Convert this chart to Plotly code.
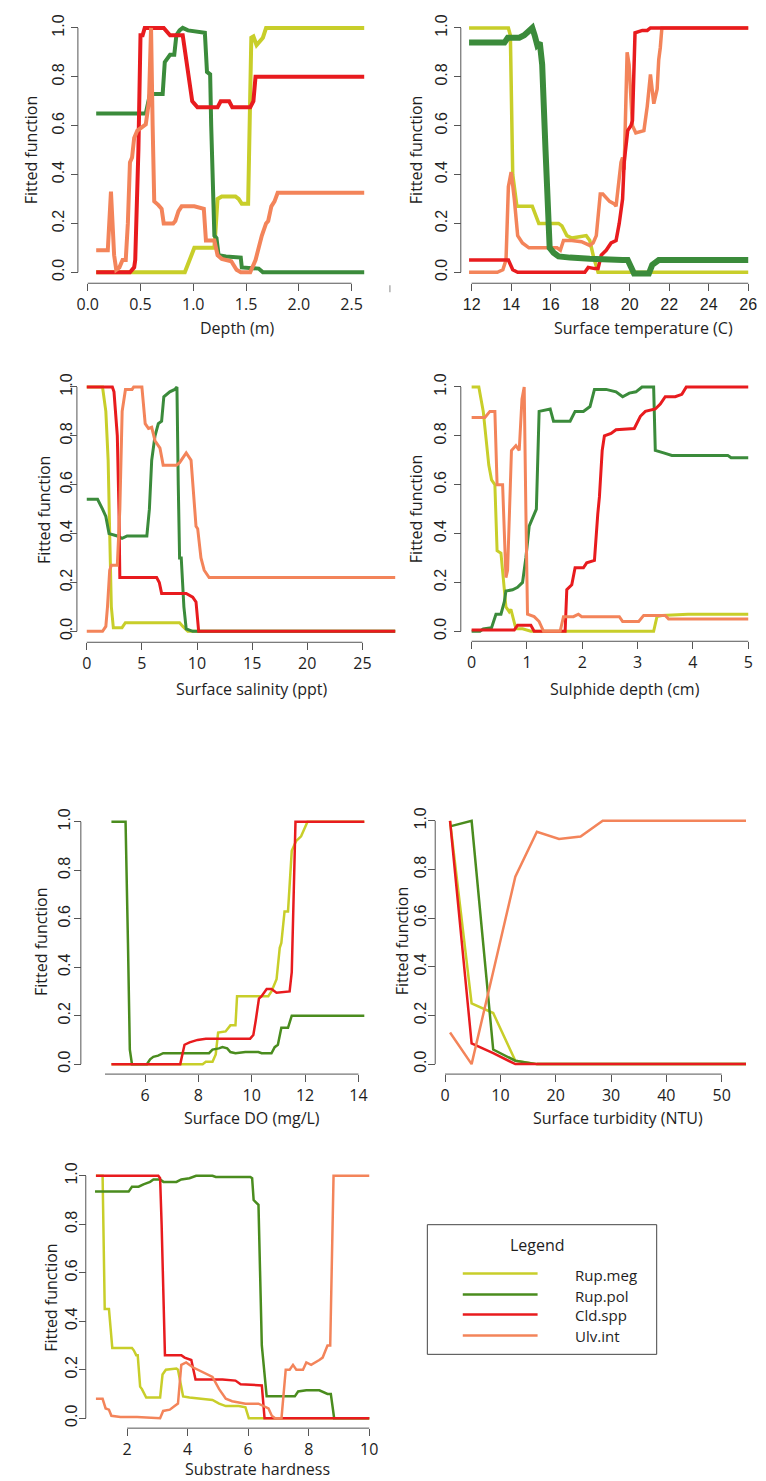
import plotly.graph_objects as go

W, H = 766, 1481

# ---------------- colours ----------------
COL_MEG = "#C8CE2A"
COL_POL_A = "#3B8B3B"
COL_POL_B = "#4A8C1E"
COL_CLD = "#E81B1E"
COL_ULV = "#F3845A"
SPECIES = ["Rup.meg", "Rup.pol", "Cld.spp", "Ulv.int"]

# ---------------- data (x, fitted value) ----------------
# Panel 1: Depth (m)
depth_meg = [(0.08, 0), (0.40, 0), (0.92, 0), (1.01, 0.10), (1.20, 0.10), (1.23, 0.30), (1.27, 0.31), (1.40, 0.31),
             (1.43, 0.30), (1.46, 0.28), (1.52, 0.28), (1.55, 0.96), (1.57, 0.965), (1.60, 0.93), (1.64, 0.95),
             (1.66, 0.96), (1.69, 1.0), (2.62, 1.0)]
depth_pol = [(0.08, 0.65), (0.55, 0.65), (0.59, 0.73), (0.71, 0.73), (0.73, 0.86), (0.78, 0.89), (0.82, 0.89),
             (0.84, 0.97), (0.87, 0.99), (0.90, 1.0), (0.95, 0.99), (1.06, 0.985), (1.11, 0.98), (1.13, 0.82),
             (1.16, 0.81), (1.17, 0.6), (1.20, 0.15), (1.22, 0.14), (1.24, 0.07), (1.31, 0.065), (1.45, 0.06),
             (1.46, 0.02), (1.55, 0.015), (1.62, 0.015), (1.66, 0), (2.62, 0)]
depth_cld = [(0.08, 0), (0.40, 0), (0.44, 0.02), (0.45, 0.05), (0.48, 0.5), (0.50, 0.97), (0.52, 0.97), (0.54, 1.0),
             (0.72, 1.0), (0.74, 0.99), (0.78, 0.97), (0.90, 0.97), (0.93, 0.87), (0.96, 0.80), (0.99, 0.70),
             (1.01, 0.69), (1.04, 0.675), (1.23, 0.675), (1.26, 0.70), (1.34, 0.70), (1.37, 0.675), (1.54, 0.675),
             (1.57, 0.70), (1.59, 0.80), (2.62, 0.80)]
depth_ulv = [(0.08, 0.09), (0.19, 0.09), (0.22, 0.33), (0.25, 0.07), (0.27, 0.01), (0.30, 0.02), (0.33, 0.05),
             (0.36, 0.05), (0.38, 0.2), (0.40, 0.45), (0.42, 0.47), (0.44, 0.55), (0.47, 0.58), (0.50, 0.59),
             (0.52, 0.60), (0.55, 0.605), (0.58, 0.7), (0.60, 1.0), (0.615, 0.6), (0.63, 0.29), (0.67, 0.275),
             (0.70, 0.26), (0.72, 0.2), (0.81, 0.2), (0.83, 0.21), (0.86, 0.25), (0.89, 0.27), (1.01, 0.27),
             (1.10, 0.26), (1.12, 0.13), (1.20, 0.13), (1.23, 0.07), (1.27, 0.055), (1.36, 0.045), (1.41, 0.01),
             (1.45, 0.0), (1.54, 0.0), (1.57, 0.03), (1.59, 0.05), (1.62, 0.10), (1.65, 0.15), (1.69, 0.2),
             (1.71, 0.21), (1.74, 0.27), (1.77, 0.29), (1.80, 0.325), (2.62, 0.325)]

# Panel 2: Surface temperature (C)
temp_meg = [(11.87, 1), (13.86, 1), (13.96, 0.97), (14.08, 0.4), (14.29, 0.27), (15.07, 0.27), (15.4, 0.2),
            (16.4, 0.2), (16.57, 0.19), (16.82, 0.15), (17.07, 0.14), (17.6, 0.145), (17.8, 0.15), (17.98, 0.13),
            (18.18, 0.06), (18.4, 0.0), (26, 0)]
temp_pol = [(11.87, 0.94), (13.66, 0.94), (13.83, 0.96), (14.41, 0.96), (14.66, 0.97), (14.9, 0.99), (15.07, 1.0),
            (15.19, 0.97), (15.32, 0.93), (15.45, 0.94), (15.57, 0.85), (15.74, 0.5), (15.85, 0.2), (15.95, 0.1),
            (16.15, 0.08), (16.4, 0.065), (16.98, 0.06), (17.3, 0.06), (17.98, 0.055), (19.64, 0.05), (19.9, 0.05),
            (20.22, -0.005), (20.97, -0.005), (21.14, 0.03), (21.47, 0.05), (26, 0.05)]
temp_cld = [(11.87, 0.05), (13.86, 0.05), (14.08, 0.01), (14.33, 0), (17.73, 0), (17.9, 0.02), (18.23, 0.015),
            (18.4, 0.015), (18.56, 0.07), (18.81, 0.09), (19.06, 0.12), (19.31, 0.13), (19.47, 0.2), (19.64, 0.3),
            (19.72, 0.45), (19.9, 0.58), (20.06, 0.6), (20.14, 0.62), (20.27, 0.98), (20.64, 0.99), (20.89, 0.99),
            (21.05, 1.0), (26, 1.0)]
temp_ulv = [(11.87, 0), (13.3, 0), (13.58, 0.01), (13.74, 0.05), (13.86, 0.35), (14.0, 0.41), (14.16, 0.3),
            (14.33, 0.15), (14.57, 0.12), (14.9, 0.10), (16.32, 0.10), (16.49, 0.09), (16.65, 0.13), (17.07, 0.13),
            (17.56, 0.125), (17.73, 0.12), (17.98, 0.11), (18.15, 0.12), (18.31, 0.15), (18.51, 0.32), (18.64, 0.32),
            (18.98, 0.29), (19.22, 0.28), (19.31, 0.27), (19.56, 0.45), (19.64, 0.47), (19.72, 0.42), (19.87, 0.9),
            (19.97, 0.85), (20.14, 0.6), (20.31, 0.57), (20.72, 0.58), (20.89, 0.68), (21.05, 0.81), (21.22, 0.69),
            (21.39, 0.75), (21.47, 0.87), (21.55, 0.92), (21.63, 1.0), (26, 1.0)]

# Panel 3: Surface salinity (ppt)
sal_meg = [(0, 1), (1.43, 1), (1.73, 0.9), (1.94, 0.7), (2.08, 0.4), (2.23, 0.1), (2.41, 0.015), (3.2, 0.015),
           (3.5, 0.035), (8.42, 0.035), (8.72, 0.02), (9.17, 0), (28, 0)]
sal_pol = [(0, 0.54), (0.98, 0.54), (1.43, 0.5), (1.73, 0.47), (2.02, 0.4), (2.77, 0.39), (3.2, 0.38), (3.66, 0.39),
           (5.45, 0.39), (5.68, 0.5), (5.89, 0.7), (6.19, 0.8), (6.49, 0.85), (6.79, 0.86), (6.99, 0.96),
           (7.53, 0.98), (7.98, 0.99), (8.18, 1.0), (8.3, 0.6), (8.42, 0.3), (8.57, 0.3), (8.81, 0.1), (9.02, 0.01),
           (9.61, 0), (28, 0)]
sal_cld = [(0, 1), (2.32, 1), (2.47, 0.98), (2.62, 0.9), (2.77, 0.8), (2.92, 0.5), (3.0, 0.22), (6.34, 0.22),
           (6.58, 0.2), (6.79, 0.155), (9.02, 0.155), (9.61, 0.14), (9.91, 0.12), (10.15, 0), (28, 0)]
sal_ulv = [(0, 0), (1.43, 0), (1.73, 0.02), (1.88, 0.1), (2.08, 0.25), (2.23, 0.27), (2.77, 0.27), (3.0, 0.5),
           (3.21, 0.9), (3.51, 0.99), (4.11, 0.99), (4.26, 1.0), (5.0, 1.0), (5.3, 0.85), (5.6, 0.83), (5.89, 0.835),
           (6.19, 0.78), (6.64, 0.75), (6.93, 0.68), (8.13, 0.68), (8.42, 0.69), (8.87, 0.72), (9.02, 0.73),
           (9.46, 0.70), (9.61, 0.6), (9.91, 0.43), (10.06, 0.42), (10.36, 0.3), (10.65, 0.25), (11.1, 0.22),
           (28, 0.22)]

# Panel 4: Sulphide depth (cm)
sul_meg = [(0, 1), (0.13, 1), (0.21, 0.9), (0.25, 0.8), (0.31, 0.68), (0.36, 0.62), (0.42, 0.6), (0.46, 0.33),
           (0.53, 0.32), (0.62, 0.1), (0.68, 0.08), (0.71, 0.09), (0.76, 0.05), (0.80, 0.01), (0.92, 0.01),
           (1.07, 0), (3.29, 0), (3.35, 0.06), (3.44, 0.065), (3.91, 0.07), (5, 0.07)]
sul_pol = [(0, 0), (0.15, 0), (0.21, 0.01), (0.36, 0.015), (0.44, 0.07), (0.53, 0.07), (0.59, 0.12), (0.62, 0.165),
           (0.74, 0.17), (0.83, 0.18), (0.92, 0.2), (0.98, 0.3), (1.04, 0.43), (1.13, 0.48), (1.17, 0.5),
           (1.22, 0.9), (1.42, 0.91), (1.48, 0.86), (1.78, 0.86), (1.87, 0.9), (2.02, 0.9), (2.14, 0.92),
           (2.22, 0.99), (2.43, 0.99), (2.61, 0.98), (2.73, 0.96), (2.85, 0.975), (2.97, 0.98), (3.08, 1.0),
           (3.29, 1.0), (3.32, 0.74), (3.47, 0.73), (3.62, 0.72), (4.63, 0.72), (4.69, 0.71), (5, 0.71)]
sul_cld = [(0, 0.005), (0.77, 0.005), (0.83, 0.025), (1.07, 0.025), (1.13, 0), (1.69, 0), (1.72, 0.17),
           (1.81, 0.19), (1.87, 0.26), (2.02, 0.26), (2.08, 0.28), (2.22, 0.29), (2.28, 0.48), (2.31, 0.55),
           (2.36, 0.74), (2.40, 0.8), (2.52, 0.81), (2.61, 0.825), (2.94, 0.83), (3.05, 0.88), (3.14, 0.9),
           (3.32, 0.91), (3.41, 0.93), (3.5, 0.96), (3.68, 0.96), (3.8, 0.97), (3.88, 1.0), (5, 1.0)]
sul_ulv = [(0, 0.875), (0.24, 0.875), (0.33, 0.9), (0.42, 0.9), (0.46, 0.6), (0.56, 0.6), (0.62, 0.22),
           (0.65, 0.25), (0.70, 0.6), (0.72, 0.74), (0.80, 0.76), (0.86, 0.74), (0.91, 0.95), (0.95, 1.0),
           (0.98, 0.5), (1.01, 0.07), (1.13, 0.06), (1.22, 0.04), (1.30, 0), (1.60, 0), (1.66, 0.06), (1.84, 0.06),
           (1.93, 0.07), (1.99, 0.06), (2.67, 0.06), (2.73, 0.04), (3.02, 0.04), (3.11, 0.065), (3.5, 0.065),
           (3.56, 0.05), (5, 0.05)]

# Panel 5: Surface DO (mg/L)  (no Ulv.int curve)
do_meg = [(4.74, 0), (8.16, 0), (8.28, 0.01), (8.53, 0.01), (8.65, 0.04), (8.74, 0.13), (9.02, 0.135), (9.2, 0.16),
          (9.39, 0.16), (9.45, 0.28), (10.62, 0.28), (10.74, 0.3), (10.93, 0.35), (11.05, 0.48), (11.11, 0.5),
          (11.23, 0.63), (11.36, 0.63), (11.5, 0.88), (11.66, 0.92), (11.85, 0.94), (11.97, 0.97), (12.09, 1.0),
          (14.22, 1.0)]
do_pol = [(4.74, 1), (5.27, 1), (5.36, 0.5), (5.43, 0.06), (5.51, 0), (6.07, 0), (6.19, 0.02), (6.31, 0.03),
          (6.49, 0.035), (6.68, 0.045), (8.40, 0.045), (8.53, 0.06), (8.77, 0.065), (8.9, 0.07), (9.08, 0.065),
          (9.2, 0.05), (9.39, 0.045), (9.76, 0.05), (10.25, 0.05), (10.37, 0.045), (10.74, 0.045), (10.86, 0.07),
          (10.98, 0.08), (11.11, 0.15), (11.36, 0.15), (11.5, 0.2), (14.22, 0.2)]
do_cld = [(4.74, 0), (7.32, 0), (7.48, 0.08), (7.67, 0.09), (7.97, 0.1), (8.28, 0.105), (9.94, 0.105),
          (10.06, 0.12), (10.15, 0.18), (10.27, 0.27), (10.37, 0.28), (10.56, 0.31), (10.74, 0.31), (10.93, 0.295),
          (11.42, 0.3), (11.5, 0.38), (11.55, 0.6), (11.64, 1.0), (14.22, 1.0)]

# Panel 6: Surface turbidity (NTU)
turb_x = [0.9, 4.8, 8.7, 12.7, 16.6, 20.6, 24.5, 28.5, 54.4]
turb_meg = [1.0, 0.25, 0.21, 0.014, 0, 0, 0, 0, 0]
turb_pol = [0.977, 1.0, 0.06, 0.014, 0, 0, 0, 0, 0]
turb_cld = [1.0, 0.085, 0.045, 0.0, 0, 0, 0, 0, 0]
turb_ulv = [0.13, 0.0, 0.38, 0.77, 0.955, 0.925, 0.935, 1.0, 1.0]

# Panel 7: Substrate hardness
sub_meg = [(0.97, 1.0), (1.19, 1.0), (1.26, 0.45), (1.4, 0.45), (1.51, 0.29), (2.16, 0.29), (2.22, 0.28),
           (2.3, 0.26), (2.35, 0.26), (2.43, 0.13), (2.49, 0.12), (2.63, 0.085), (3.09, 0.085), (3.17, 0.18),
           (3.28, 0.2), (3.63, 0.205), (3.68, 0.2), (3.85, 0.09), (4.06, 0.085), (4.61, 0.08), (4.82, 0.075),
           (5.04, 0.06), (5.26, 0.05), (5.69, 0.05), (5.91, 0.045), (6.02, 0.0), (10, 0)]
sub_pol = [(0.94, 0.935), (2.05, 0.935), (2.16, 0.955), (2.38, 0.955), (2.54, 0.965), (2.76, 0.975), (2.87, 0.985),
           (3.09, 0.985), (3.2, 0.975), (3.63, 0.975), (3.79, 0.985), (4.06, 0.99), (4.28, 1.0), (4.82, 1.0),
           (4.93, 0.995), (6.07, 0.995), (6.13, 0.99), (6.18, 0.9), (6.34, 0.88), (6.45, 0.3), (6.61, 0.09),
           (7.54, 0.09), (7.65, 0.11), (7.92, 0.115), (8.35, 0.115), (8.62, 0.1), (8.73, 0.1), (8.84, 0.0), (10, 0)]
sub_cld = [(0.97, 1.0), (2.76, 1.0), (3.03, 1.0), (3.09, 0.99), (3.14, 0.8), (3.25, 0.26), (3.79, 0.26),
           (3.9, 0.25), (4.12, 0.24), (4.26, 0.16), (5.15, 0.16), (5.58, 0.155), (5.75, 0.14), (6.45, 0.135),
           (6.54, 0.0), (10, 0)]
sub_ulv = [(0.97, 0.08), (1.19, 0.08), (1.29, 0.04), (1.4, 0.035), (1.48, 0.01), (1.78, 0.005), (2.33, 0.005),
           (2.76, 0.003), (3.09, 0.0), (3.19, 0.03), (3.41, 0.035), (3.57, 0.05), (3.68, 0.06), (3.79, 0.22),
           (3.95, 0.23), (4.17, 0.21), (4.33, 0.2), (4.61, 0.18), (4.82, 0.17), (5.04, 0.12), (5.26, 0.08),
           (5.47, 0.07), (5.91, 0.06), (6.34, 0.06), (6.67, 0.04), (6.78, 0.01), (6.89, 0.0), (7.1, 0.0),
           (7.24, 0.2), (7.37, 0.2), (7.48, 0.22), (7.59, 0.2), (7.81, 0.2), (7.92, 0.23), (8.08, 0.22),
           (8.35, 0.24), (8.46, 0.25), (8.62, 0.3), (8.71, 0.3), (8.82, 1.0), (10, 1.0)]

# x axis labels / ticks
depth_ticks = [0, 0.5, 1.0, 1.5, 2.0, 2.5]
temp_ticks = [12, 14, 16, 18, 20, 22, 24, 26]
sal_ticks = [0, 5, 10, 15, 20, 25]
sul_ticks = [0, 1, 2, 3, 4, 5]
do_ticks = [4, 6, 8, 10, 12, 14]
turb_ticks = [0, 10, 20, 30, 40, 50]
sub_ticks = [2, 4, 6, 8, 10]
y_ticks = [0, 0.2, 0.4, 0.6, 0.8, 1.0]


def split(pairs):
    return [p[0] for p in pairs], [p[1] for p in pairs]


# ---------------- panel layout (pixel geometry) ----------------
panels = [
    dict(curves=[(depth_meg, COL_MEG, 4), (depth_pol, COL_POL_A, 4), (depth_cld, COL_CLD, 4), (depth_ulv, COL_ULV, 4)],
         xcal=(0, 80, 2.5, 348), xr=(-0.02, 2.68), ycal=(269, 24), xline=280, yline=70, ystand=1,
         xt=depth_ticks, xfmt="{:.1f}", xfont="Open Sans", title="Depth (m)", tpos=(232, 325), fpos=(22, 147)),
    dict(curves=[(temp_meg, COL_MEG, 3.5), (temp_ulv, COL_ULV, 3.5), (temp_cld, COL_CLD, 3.5), (temp_pol, COL_POL_A, 6)],
         xcal=(12, 470, 26, 751), xr=(11.6, 26.3), ycal=(269, 24), xline=280, yline=459, ystand=0,
         xt=temp_ticks, xfmt="{:d}", xfont="Liberation Sans", title="Surface temperature (C)", tpos=(645, 325), fpos=(413, 147)),
    dict(curves=[(sal_meg, COL_MEG, 3), (sal_pol, COL_POL_A, 3), (sal_cld, COL_CLD, 3), (sal_ulv, COL_ULV, 3)],
         xcal=(0, 79, 25, 359), xr=(-0.3, 28.0), ycal=(629, 384), xline=640, yline=69, ystand=-8,
         xt=sal_ticks, xfmt="{:d}", xfont="Open Sans", title="Surface salinity (ppt)", tpos=(247, 687), fpos=(35, 507)),
    dict(curves=[(sul_meg, COL_MEG, 3), (sul_pol, COL_POL_A, 3), (sul_cld, COL_CLD, 3), (sul_ulv, COL_ULV, 3)],
         xcal=(0, 470, 5, 751), xr=(-0.1, 5.1), ycal=(629, 384), xline=639, yline=459, ystand=1,
         xt=sul_ticks, xfmt="{:d}", xfont="Open Sans", title="Sulphide depth (cm)", tpos=(626, 687), fpos=(413, 507)),
    dict(curves=[(do_meg, COL_MEG, 2.5), (do_pol, COL_POL_B, 2.5), (do_cld, COL_CLD, 2.5)],
         xcal=(4, 84, 14, 355), xr=(4.5, 14.4), ycal=(1063, 820), xline=1073, yline=73, ystand=-3,
         xt=do_ticks, xfmt="{:d}", xfont="Open Sans", title="Surface DO (mg/L)", tpos=(247, 1117), fpos=(33, 940)),
    dict(curves=[(list(zip(turb_x, turb_meg)), COL_MEG, 2.5), (list(zip(turb_x, turb_pol)), COL_POL_B, 2.5),
                 (list(zip(turb_x, turb_cld)), COL_CLD, 2.5), (list(zip(turb_x, turb_ulv)), COL_ULV, 2.5)],
         xcal=(0, 443, 50, 724), xr=(0, 55.5), ycal=(1063, 819), xline=1073, yline=433, ystand=-4,
         xt=turb_ticks, xfmt="{:d}", xfont="Open Sans", title="Surface turbidity (NTU)", tpos=(619, 1117), fpos=(400, 940)),
    dict(curves=[(sub_meg, COL_MEG, 2.5), (sub_pol, COL_POL_B, 2.5), (sub_cld, COL_CLD, 2.5), (sub_ulv, COL_ULV, 2.5)],
         xcal=(2, 120, 10, 366), xr=(0.7, 10.2), ycal=(1418, 1175), xline=1428, yline=78, ystand=-5,
         xt=sub_ticks, xfmt="{:d}", xfont="Open Sans", title="Substrate hardness", tpos=(252, 1469), fpos=(43, 1297)),
]

AX = "#555555"
TXT = "#1e1e1e"
YR = (-0.04, 1.04)

fig = go.Figure()
shapes = []
annotations = []
layout = {}

for i, p in enumerate(panels, start=1):
    xa = "x" if i == 1 else f"x{i}"
    ya = "y" if i == 1 else f"y{i}"
    for pairs, col, lw in p["curves"]:
        xs, ys = split(pairs)
        fig.add_trace(go.Scatter(x=xs, y=ys, mode="lines", line=dict(color=col, width=lw),
                                 xaxis=xa, yaxis=ya, showlegend=False, hoverinfo="skip"))
    v1, p1, v2, p2 = p["xcal"]
    k = (p2 - p1) / (v2 - v1)
    r0, r1 = p["xr"]
    xd = [(p1 + (r0 - v1) * k) / W, (p1 + (r1 - v1) * k) / W]
    y0p, y1p = p["ycal"]
    ky = y0p - y1p
    top = y1p - (YR[1] - 1) * ky
    bot = y0p + (0 - YR[0]) * ky
    yd = [1 - bot / H, 1 - top / H]
    tick_common = dict(ticks="outside", ticklen=7, tickwidth=1, tickcolor=AX, showgrid=False,
                       zeroline=False, showline=False, anchor="free")
    layout["xaxis" if i == 1 else f"xaxis{i}"] = dict(
        domain=xd, range=list(p["xr"]), position=1 - p["xline"] / H,
        tickvals=p["xt"], ticktext=[p["xfmt"].format(t) for t in p["xt"]],
        tickfont=dict(family=p["xfont"], size=16, color=TXT), **tick_common)
    layout["yaxis" if i == 1 else f"yaxis{i}"] = dict(
        domain=yd, range=list(YR), position=p["yline"] / W, ticklabelstandoff=p["ystand"],
        tickvals=y_ticks, ticktext=[f"{t:.1f}" for t in y_ticks], tickangle=-90,
        tickfont=dict(family="Liberation Sans", size=16, color=TXT), **tick_common)
    # R-style axis lines (from first to last tick)
    shapes.append(dict(type="line", xref=xa, yref="paper", x0=p["xt"][0], x1=p["xt"][-1],
                       y0=1 - p["xline"] / H, y1=1 - p["xline"] / H, line=dict(color=AX, width=1)))
    shapes.append(dict(type="line", xref="paper", yref=ya, x0=p["yline"] / W, x1=p["yline"] / W,
                       y0=0, y1=1, line=dict(color=AX, width=1)))
    annotations.append(dict(text=p["title"], x=p["tpos"][0] / W, y=1 - p["tpos"][1] / H, xref="paper", yref="paper",
                            showarrow=False, xanchor="center", yanchor="middle",
                            font=dict(family="Open Sans", size=16, color=TXT)))
    annotations.append(dict(text="Fitted function", x=p["fpos"][0] / W, y=1 - p["fpos"][1] / H, xref="paper",
                            yref="paper", showarrow=False, xanchor="center", yanchor="middle", textangle=-90,
                            font=dict(family="Open Sans", size=16, color=TXT)))

# small stray tick mark to the right of the first panel
shapes.append(dict(type="line", xref="paper", yref="paper", x0=387 / W, x1=387 / W, y0=1 - 282 / H, y1=1 - 289 / H,
                   line=dict(color="#888888", width=1)))

# ---------------- legend box ----------------
shapes.append(dict(type="rect", xref="paper", yref="paper", x0=425 / W, x1=658 / W, y0=1 - 1354 / H, y1=1 - 1224 / H,
                   line=dict(color="#444444", width=1)))
annotations.append(dict(text="Legend", x=537 / W, y=1 - 1244 / H, xref="paper", yref="paper", showarrow=False,
                        xanchor="center", yanchor="middle", font=dict(family="Open Sans", size=16, color=TXT)))
leg_cols = [COL_MEG, COL_POL_B, COL_CLD, COL_ULV]
leg_y = [1273, 1294, 1314, 1335]
for name, col, ly in zip(SPECIES, leg_cols, leg_y):
    shapes.append(dict(type="line", xref="paper", yref="paper", x0=461 / W, x1=537 / W, y0=1 - ly / H, y1=1 - ly / H,
                       line=dict(color=col, width=2.5)))
    annotations.append(dict(text=name, x=573 / W, y=1 - (ly + 1) / H, xref="paper", yref="paper", showarrow=False,
                            xanchor="left", yanchor="middle", font=dict(family="Open Sans", size=15, color=TXT)))

fig.update_layout(width=W, height=H, margin=dict(l=0, r=0, t=0, b=0), plot_bgcolor="white",
                  paper_bgcolor="white", showlegend=False, shapes=shapes, annotations=annotations,
                  font=dict(family="Open Sans", color=TXT), **layout)

fig.write_html("out.html")
